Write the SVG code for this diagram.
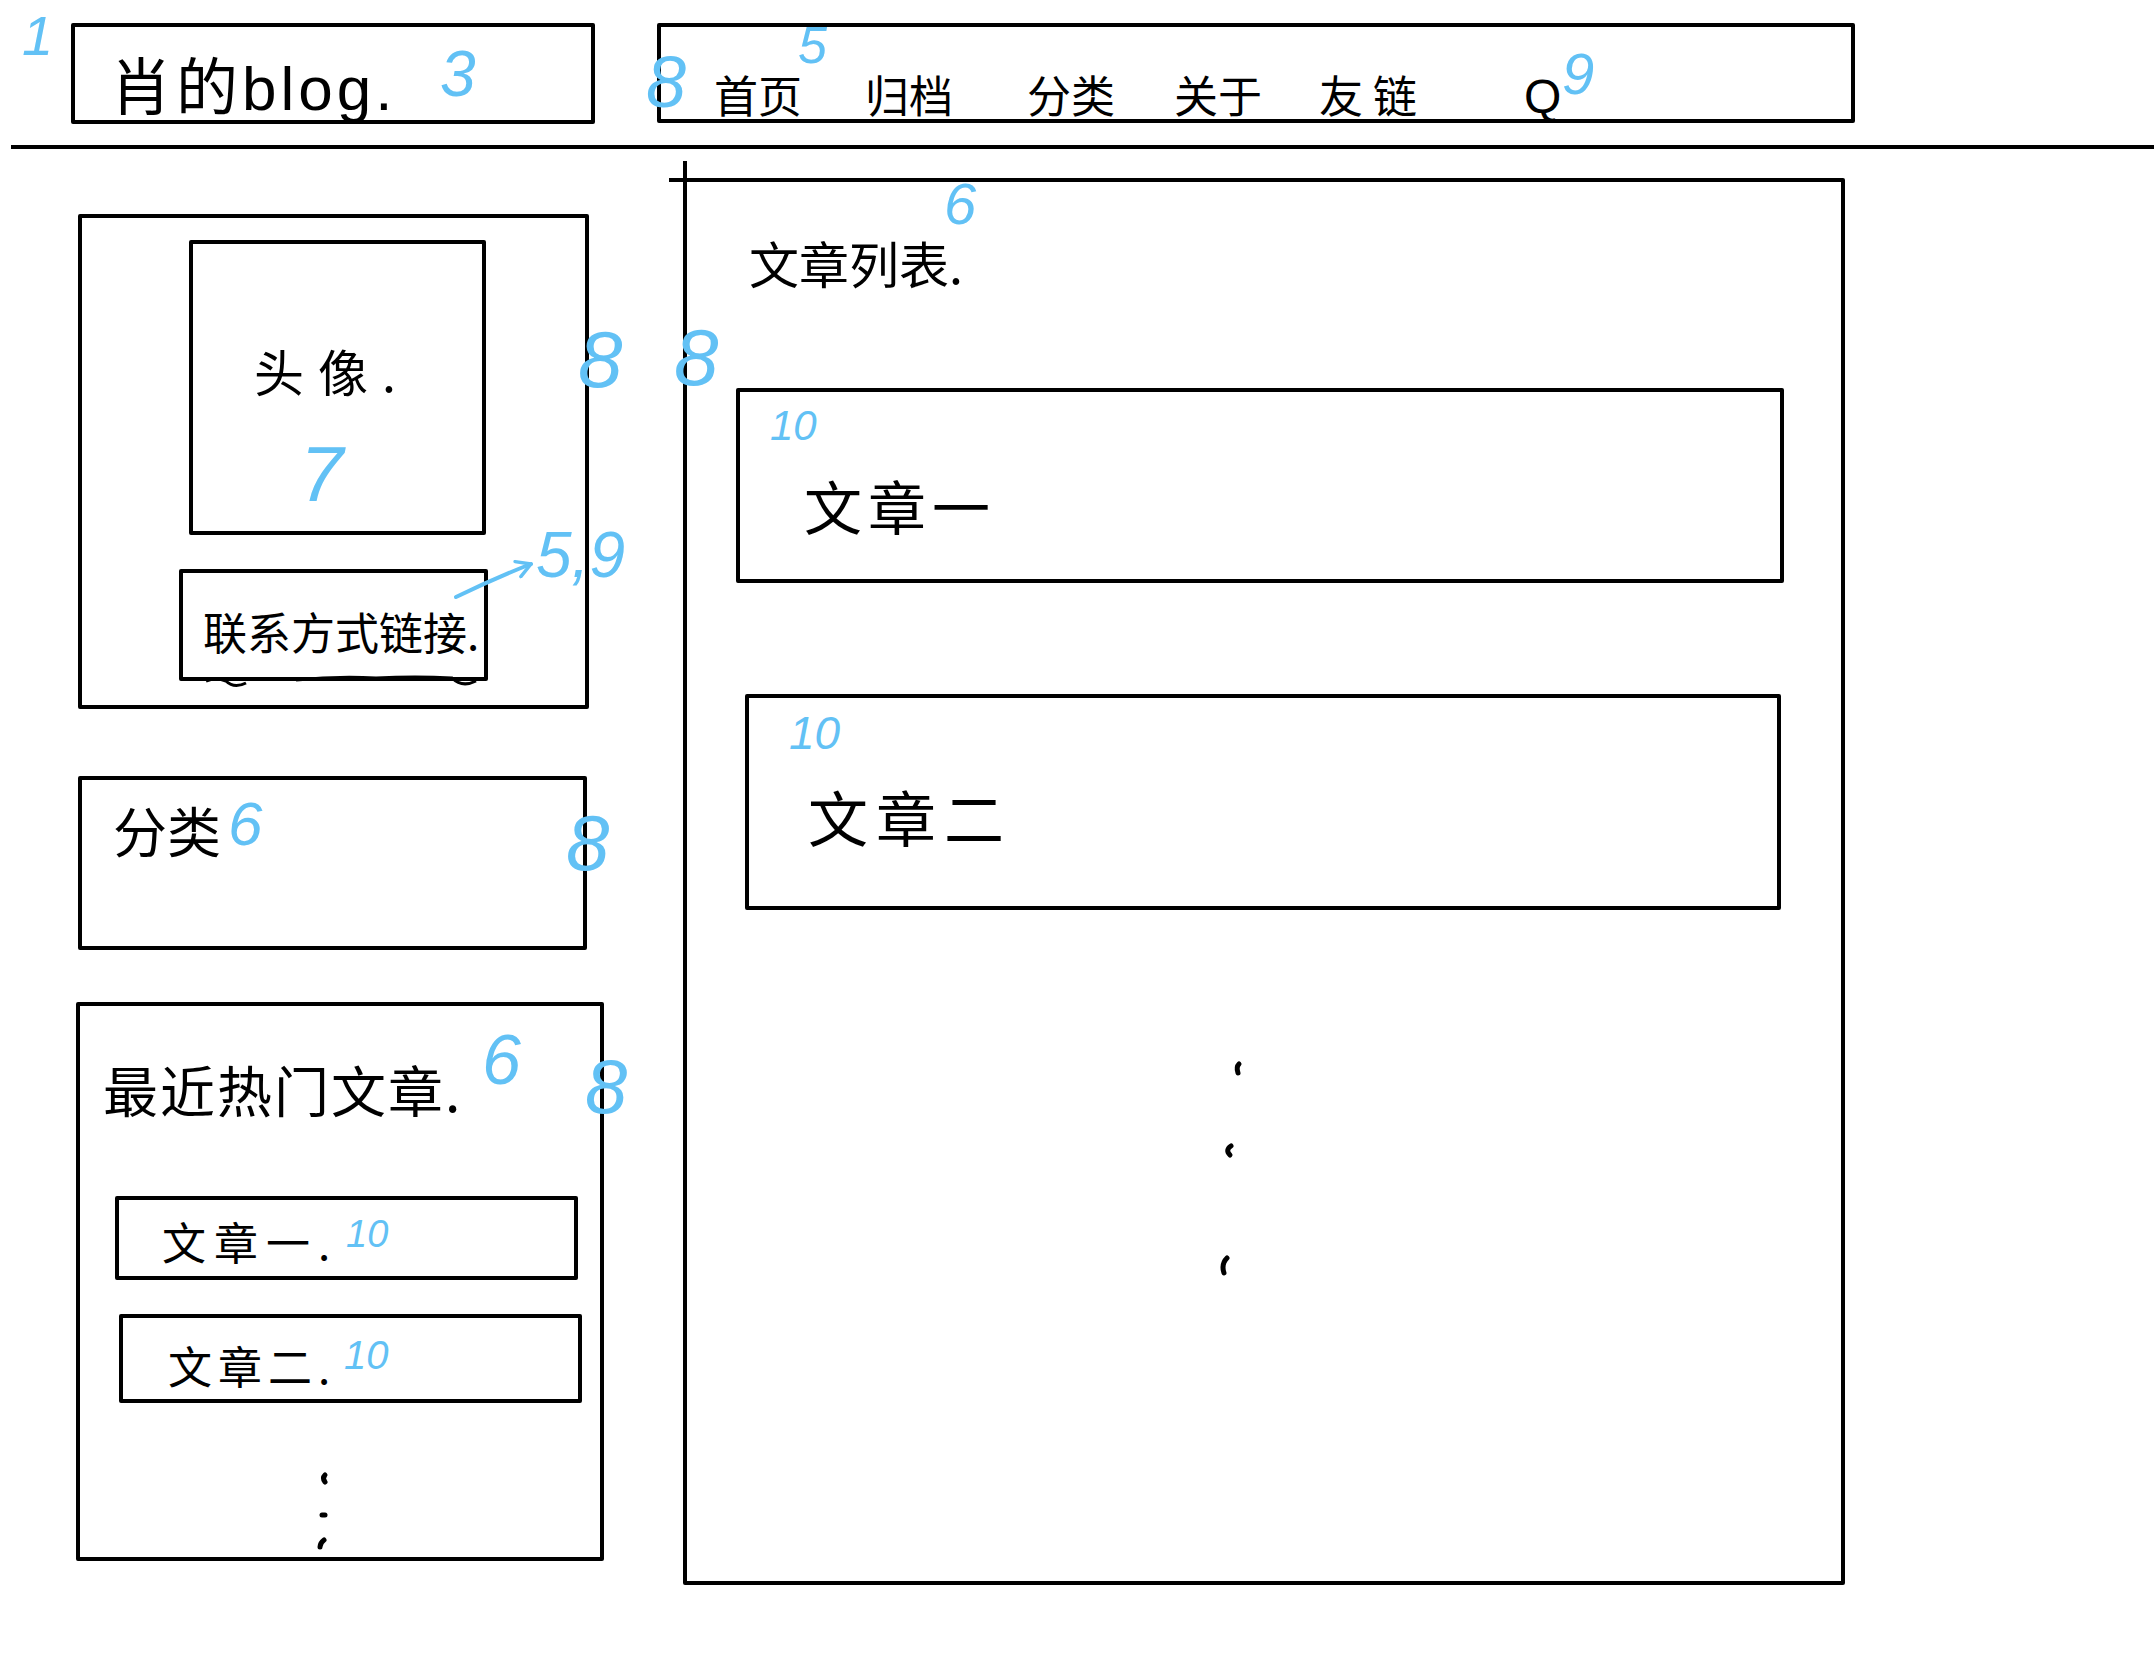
<svg xmlns="http://www.w3.org/2000/svg" width="2154" height="1668" viewBox="0 0 2154 1668">
<style>
.box{fill:none;stroke:#000;stroke-width:4;stroke-linejoin:round}
.t{font-family:"Noto Sans CJK SC","Liberation Sans",sans-serif;fill:#000}
.lat{font-family:"Liberation Sans","Noto Sans CJK SC",sans-serif;fill:#000}
.b{font-family:"Liberation Sans",sans-serif;font-style:italic;fill:#62C1F5}
.dot{fill:none;stroke:#000;stroke-width:5;stroke-linecap:round}
</style>
<defs>
<marker id="arr" viewBox="0 0 20 20" refX="16" refY="10" markerWidth="20" markerHeight="20" markerUnits="userSpaceOnUse" orient="auto">
<path d="M2,2 L16,10 L2,18" fill="none" stroke="#62C1F5" stroke-width="3.5" stroke-linecap="round" stroke-linejoin="round"/>
</marker>
</defs>
<rect width="2154" height="1668" fill="#fff"/>

<g id="page-label"><text class="b" x="22" y="55" font-size="56">1</text></g>

<g id="logo">
<rect class="box" x="73" y="25" width="520" height="97"/>
<text class="t" x="110" y="110" font-size="62" letter-spacing="4">肖的<tspan class="lat">blog.</tspan></text>
<text class="b" x="440" y="96" font-size="64">3</text>
</g>

<g id="nav">
<rect class="box" x="659" y="25" width="1194" height="96"/>
<text class="b" x="646" y="107" font-size="72">8</text>
<text class="t" x="714" y="113" font-size="44">首页</text>
<text class="b" x="798" y="63" font-size="52">5</text>
<text class="t" x="865" y="113" font-size="44">归档</text>
<text class="t" x="1027" y="113" font-size="44">分类</text>
<text class="t" x="1174" y="113" font-size="44">关于</text>
<text class="t" x="1319" y="113" font-size="44" letter-spacing="10">友链</text>
<text class="lat" x="1524" y="113" font-size="48">Q</text>
<text class="b" x="1562" y="94" font-size="58">9</text>
</g>

<g id="divider"><line x1="11" y1="147" x2="2154" y2="147" stroke="#000" stroke-width="4"/></g>

<g id="article-list">
<path class="box" d="M669,180 H1843 V1583 H685 V161"/>
<text class="t" x="749" y="284" font-size="50">文章列表.</text>
<text class="b" x="944" y="224" font-size="58">6</text>
<text class="b" x="674" y="385" font-size="80">8</text>
<path class="dot" d="M1239,1064 q-3,3 -1,9"/>
<path class="dot" d="M1231,1146 q-6,4 -1,9"/>
<path class="dot" d="M1227,1258 q-6,6 -3,15"/>
</g>

<g id="article-1">
<rect class="box" x="738" y="390" width="1044" height="191"/>
<text class="b" x="770" y="440" font-size="42">10</text>
<text class="t" x="804" y="530" font-size="58" letter-spacing="6">文章一</text>
</g>

<g id="article-2">
<rect class="box" x="747" y="696" width="1032" height="212"/>
<text class="b" x="789" y="749" font-size="46">10</text>
<text class="t" x="808" y="842" font-size="60" letter-spacing="8">文章二</text>
</g>

<g id="profile">
<rect class="box" x="80" y="216" width="507" height="491"/>
<text class="b" x="578" y="387" font-size="80">8</text>
</g>

<g id="avatar">
<rect class="box" x="191" y="242" width="293" height="291"/>
<text class="t" x="254" y="392" font-size="50" letter-spacing="14">头像.</text>
<text class="b" x="300" y="501" font-size="78">7</text>
</g>

<g id="contact">
<rect class="box" x="181" y="571" width="305" height="108"/>
<path d="M206,681 q10,-4 20,0 q8,8 20,2 M296,680 q40,-4 80,-2 q40,-2 76,0 q10,10 24,3" fill="none" stroke="#000" stroke-width="3"/>
<text class="t" x="203" y="650" font-size="44">联系方式链接.</text>
<text class="b" x="536" y="577" font-size="64">5,9</text>
</g>

<g id="category">
<rect class="box" x="80" y="778" width="505" height="170"/>
<text class="t" x="113" y="853" font-size="54">分类</text>
<text class="b" x="228" y="845" font-size="62">6</text>
<text class="b" x="566" y="870" font-size="78">8</text>
</g>

<g id="hot">
<rect class="box" x="78" y="1004" width="524" height="555"/>
<text class="t" x="103" y="1112" font-size="55" letter-spacing="2">最近热门文章.</text>
<text class="b" x="482" y="1084" font-size="70">6</text>
<text class="b" x="585" y="1113" font-size="76">8</text>
<path class="dot" d="M325,1475 q-3,3 0,7"/>
<path class="dot" d="M322,1515 h3"/>
<path class="dot" d="M324,1540 q-4,3 -4,7"/>
</g>

<g id="hot-1">
<rect class="box" x="117" y="1198" width="459" height="80"/>
<text class="t" x="162" y="1260" font-size="44" letter-spacing="8">文章一.</text>
<text class="b" x="346" y="1247" font-size="38">10</text>
</g>

<g id="hot-2">
<rect class="box" x="121" y="1316" width="459" height="85"/>
<text class="t" x="168" y="1384" font-size="44" letter-spacing="6">文章二.</text>
<text class="b" x="344" y="1369" font-size="40">10</text>
</g>

<g id="connectors">
<path d="M456,597 Q495,578 531,564" fill="none" stroke="#62C1F5" stroke-width="4" stroke-linecap="round" marker-end="url(#arr)"/>
</g>
</svg>
